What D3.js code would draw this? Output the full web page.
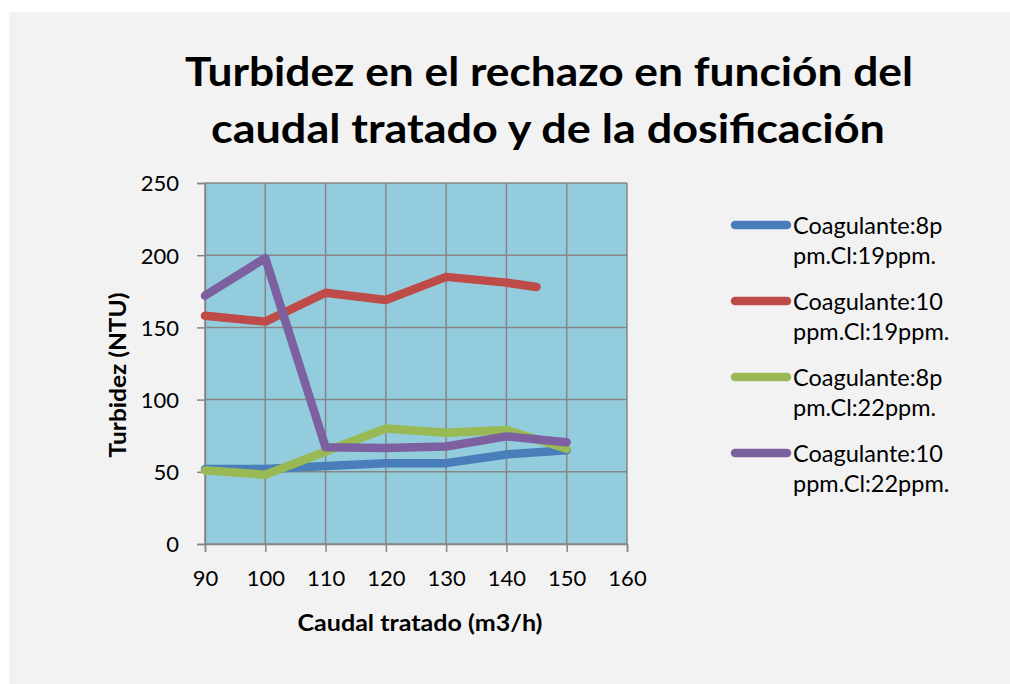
<!DOCTYPE html>
<html>
<head>
<meta charset="utf-8">
<script src="https://cdn.jsdelivr.net/npm/d3@7"></script>
<style>
  body { margin: 0; background: #fff; }
  text { font-family: Lato, "Open Sans", sans-serif; fill: #000; }
</style>
</head>
<body>
<div id="chart"></div>
<script>
// data
var xVals = [90, 100, 110, 120, 130, 140, 150];
var xValsRed = [90, 100, 110, 120, 130, 140, 145];
var blueVals = [52, 52, 54, 56, 56, 62, 65];
var redVals = [158, 154, 174, 169, 185, 181, 178];
var greenVals = [51, 48, 64, 80, 77, 79, 66];
var purpleVals = [172, 198, 67, 66.5, 67.5, 74.5, 70.5];
var xTicks = [90, 100, 110, 120, 130, 140, 150, 160];
var yTicks = [0, 50, 100, 150, 200, 250];
var legendNames = [
    ["Coagulante:8p", "pm.Cl:19ppm."],
    ["Coagulante:10", "ppm.Cl:19ppm."],
    ["Coagulante:8p", "pm.Cl:22ppm."],
    ["Coagulante:10", "ppm.Cl:22ppm."]
];
var colors = ["#4a7ebb", "#be4b48", "#98b954", "#7d60a0"];

var series = [
    {x: xVals, y: blueVals},
    {x: xValsRed, y: redVals},
    {x: xVals, y: greenVals},
    {x: xVals, y: purpleVals}
];

var svgWidth = 1010;
var svgHeight = 684;

var margin = {top: 183, left: 205};
var width = 422;
var height = 361;

var svg = d3.select("#chart")
    .append("svg")
    .attr("width", svgWidth)
    .attr("height", svgHeight);

svg.append("rect")
    .attr("x", 9).attr("y", 12)
    .attr("width", svgWidth - 9).attr("height", svgHeight - 12)
    .attr("fill", "#f2f2f2");

// title
svg.append("text")
    .attr("x", 549).attr("y", 86)
    .attr("text-anchor", "middle")
    .attr("font-size", 41).attr("font-weight", "bold")
    .attr("textLength", 728).attr("lengthAdjust", "spacingAndGlyphs")
    .text("Turbidez en el rechazo en función del");
svg.append("text")
    .attr("x", 548).attr("y", 143)
    .attr("text-anchor", "middle")
    .attr("font-size", 41).attr("font-weight", "bold")
    .attr("textLength", 674).attr("lengthAdjust", "spacingAndGlyphs")
    .text("caudal tratado y de la dosificación");

var chartGroup = svg.append("g")
    .attr("transform", `translate(${margin.left}, ${margin.top})`);

var xScale = d3.scaleLinear().domain([90, 160]).range([0, width]);
var yScale = d3.scaleLinear().domain([0, 250]).range([height, 0]);

chartGroup.append("rect")
    .attr("width", width).attr("height", height)
    .attr("fill", "#93cddd");

// gridlines
chartGroup.append("g")
    .selectAll("line.h")
    .data(yTicks)
    .enter()
    .append("line")
    .attr("x1", 0).attr("x2", width)
    .attr("y1", d => yScale(d)).attr("y2", d => yScale(d))
    .attr("stroke", "#868686").attr("stroke-width", 1.5);

chartGroup.append("g")
    .selectAll("line.v")
    .data(xTicks)
    .enter()
    .append("line")
    .attr("y1", 0).attr("y2", height)
    .attr("x1", d => xScale(d)).attr("x2", d => xScale(d))
    .attr("stroke", "#868686").attr("stroke-width", 1.5);

var leftAxis = d3.axisLeft(yScale).tickValues(yTicks).tickSize(8).tickPadding(18);
var bottomAxis = d3.axisBottom(xScale).tickValues(xTicks).tickSize(8).tickPadding(18);

var yAxisG = chartGroup.append("g").call(leftAxis);
var xAxisG = chartGroup.append("g")
    .attr("transform", `translate(0, ${height})`)
    .call(bottomAxis);

[yAxisG, xAxisG].forEach(function (g) {
    g.select(".domain").attr("stroke", "#868686").attr("stroke-width", 1.5);
    g.selectAll(".tick line").attr("stroke", "#868686").attr("stroke-width", 1.5);
    g.selectAll(".tick text")
        .attr("font-size", 22)
        .attr("font-family", "Lato, 'Open Sans', sans-serif")
        .attr("fill", "#000");
});
yAxisG.selectAll(".tick text").attr("dy", "0.36em");
xAxisG.selectAll(".tick text").attr("dy", 0).attr("y", 42);

// lines
var line = d3.line()
    .x(d => xScale(d[0]))
    .y(d => yScale(d[1]));

series.forEach(function (s, i) {
    var pts = s.x.map((x, j) => [x, s.y[j]]);
    chartGroup.append("path")
        .datum(pts)
        .attr("d", line)
        .attr("fill", "none")
        .attr("stroke", colors[i])
        .attr("stroke-width", 8.5)
        .attr("stroke-linejoin", "round")
        .attr("stroke-linecap", "round");
});

// axis titles
svg.append("text")
    .attr("transform", "translate(126, 375) rotate(-90)")
    .attr("text-anchor", "middle")
    .attr("font-size", 23).attr("font-weight", "bold")
    .attr("textLength", 165).attr("lengthAdjust", "spacingAndGlyphs")
    .text("Turbidez (NTU)");

svg.append("text")
    .attr("x", 420).attr("y", 631)
    .attr("text-anchor", "middle")
    .attr("font-size", 23).attr("font-weight", "bold")
    .attr("textLength", 245).attr("lengthAdjust", "spacingAndGlyphs")
    .text("Caudal tratado (m3/h)");

// legend
var legend = svg.append("g")
    .selectAll("g")
    .data(legendNames)
    .enter()
    .append("g")
    .attr("transform", (d, i) => `translate(0, ${225 + i * 76})`);

legend.append("line")
    .attr("x1", 735).attr("x2", 787)
    .attr("y1", 0).attr("y2", 0)
    .attr("stroke", (d, i) => colors[i])
    .attr("stroke-width", 8.5)
    .attr("stroke-linecap", "round");

legend.append("text")
    .attr("x", 793).attr("y", 9)
    .attr("font-size", 23.5)
    .text(d => d[0]);

legend.append("text")
    .attr("x", 793).attr("y", 39)
    .attr("font-size", 23.5)
    .text(d => d[1]);
</script>
</body>
</html>
